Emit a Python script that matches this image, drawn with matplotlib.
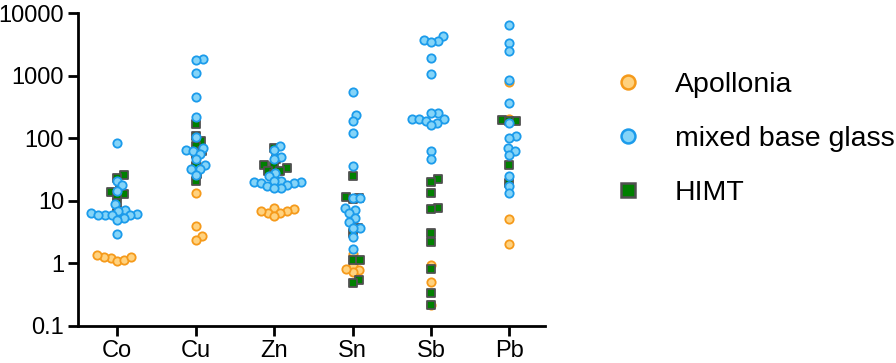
import matplotlib.pyplot as plt
import numpy as np
from matplotlib.lines import Line2D

plt.rcParams['font.family'] = ['Liberation Sans', 'DejaVu Sans']

elements = ['Co', 'Cu', 'Zn', 'Sn', 'Sb', 'Pb']

# values, one list per element
apollonia = {
    'Co': [1.2, 1.25, 1.1, 1.35, 1.15, 1.25],
    'Cu': [40, 13.5, 4.0, 2.7, 2.4],
    'Zn': [7.8, 7.5, 6.8, 6.5, 6.5, 5.8, 7.0],
    'Sn': [1.4, 0.95, 0.78, 0.72, 0.8],
    'Sb': [0.95, 0.51, 0.22],
    'Pb': [790, 200, 5.2, 2.05],
}
mixed = {
    'Co': [83, 21, 17.6, 14.5, 8.9, 7.2, 7, 6.3, 6.2, 6, 5.9, 5.9, 6, 5.4, 4.9, 2.9],
    'Cu': [1820, 1780, 1100, 450, 222, 103, 71, 66, 62, 57, 46, 38, 32, 32, 26],
    'Zn': [76, 66, 50, 46, 28, 25, 21, 21, 20, 20, 19, 19, 18, 17, 16, 16],
    'Sn': [540, 235, 186, 120, 36, 11, 11.2, 7.7, 7.2, 6.3, 5.3, 4.6, 3.7, 3.7, 2.6, 1.7],
    'Sb': [4270, 3700, 3560, 3500, 1900, 1050, 250, 250, 200, 200, 200, 190, 178, 160, 62, 46],
    'Pb': [6400, 3300, 2450, 850, 360, 175, 110, 102, 69, 63, 53, 25, 17.5, 13.5],
}
himt = {
    'Co': [25.5, 23.5, 16, 14, 13, 12.6, 9.1, 6.3],
    'Cu': [167, 110, 89, 74, 63, 57, 36, 27, 21],
    'Zn': [69, 46, 37, 36, 34, 30, 30, 27],
    'Sn': [25, 11.5, 11, 10.5, 3.7, 3.1, 1.15, 1.15, 0.55, 0.49],
    'Sb': [22, 20, 13.5, 7.8, 7.5, 3.1, 2.2, 0.8, 0.34, 0.22],
    'Pb': [194, 190, 190, 37, 19.5],
}


def swarm(vals, diam=7.0, px_x=78.4, px_dec=62.4):
    # simple beeswarm: place each point as close to the centre as it can go
    ys = np.log10(np.asarray(vals, dtype=float)) * px_dec
    order = np.argsort(ys)
    placed = []
    offs = np.zeros(len(ys))
    for i in order:
        y = ys[i]
        cands = [0.0]
        for (px, py) in placed:
            dy = abs(py - y)
            if dy < diam:
                dx = np.sqrt(diam ** 2 - dy ** 2)
                cands += [px + dx, px - dx]
        cands.sort(key=abs)
        for c in cands:
            if all((c - px) ** 2 + (y - py) ** 2 >= diam ** 2 - 1e-6 for (px, py) in placed):
                placed.append((c, y))
                offs[i] = c / px_x
                break
    return offs


fig = plt.figure(figsize=(8.96, 3.63), dpi=100)
ax = fig.add_axes([0.087, 0.102, 0.521, 0.862])

styles = [
    (apollonia, 'o', '#FFD27F', '#F59A1B'),
    (himt, 's', '#008000', '#505050'),
    (mixed, 'o', '#84D4F8', '#1B9BEB'),
]

for data, mk, fc, ec in styles:
    for i, el in enumerate(elements):
        vals = data[el]
        xs = i + swarm(vals)
        ax.scatter(xs, vals, s=36, marker=mk, facecolor=fc, edgecolor=ec,
                   linewidths=1.3, zorder=3)

ax.set_yscale('log')
ax.set_ylim(0.1, 10000)
ax.set_xlim(-0.5, 5.45)
ax.set_yticks([0.1, 1, 10, 100, 1000, 10000])
ax.set_yticklabels(['0.1', '1', '10', '100', '1000', '10000'])
ax.yaxis.set_minor_locator(plt.NullLocator())
ax.set_xticks(range(len(elements)))
ax.set_xticklabels(elements)

for s in ['top', 'right']:
    ax.spines[s].set_visible(False)
for s in ['left', 'bottom']:
    ax.spines[s].set_linewidth(2)
ax.tick_params(axis='both', width=2, length=7, labelsize=17, color='black', pad=3)

handles = [
    Line2D([], [], ls='none', marker='o', markersize=10, markerfacecolor='#FFD27F',
           markeredgecolor='#F59A1B', markeredgewidth=1.8),
    Line2D([], [], ls='none', marker='o', markersize=10, markerfacecolor='#84D4F8',
           markeredgecolor='#1B9BEB', markeredgewidth=1.8),
    Line2D([], [], ls='none', marker='s', markersize=10, markerfacecolor='#008000',
           markeredgecolor='#505050', markeredgewidth=1.8),
]
fig.legend(handles, ['Apollonia', 'mixed base glass', 'HIMT'], loc='upper left',
           bbox_to_anchor=(0.656, 0.872), frameon=False, fontsize=20.5,
           handletextpad=1.15, labelspacing=0.98, handlelength=1.0)

fig.savefig('out.png', dpi=100)
